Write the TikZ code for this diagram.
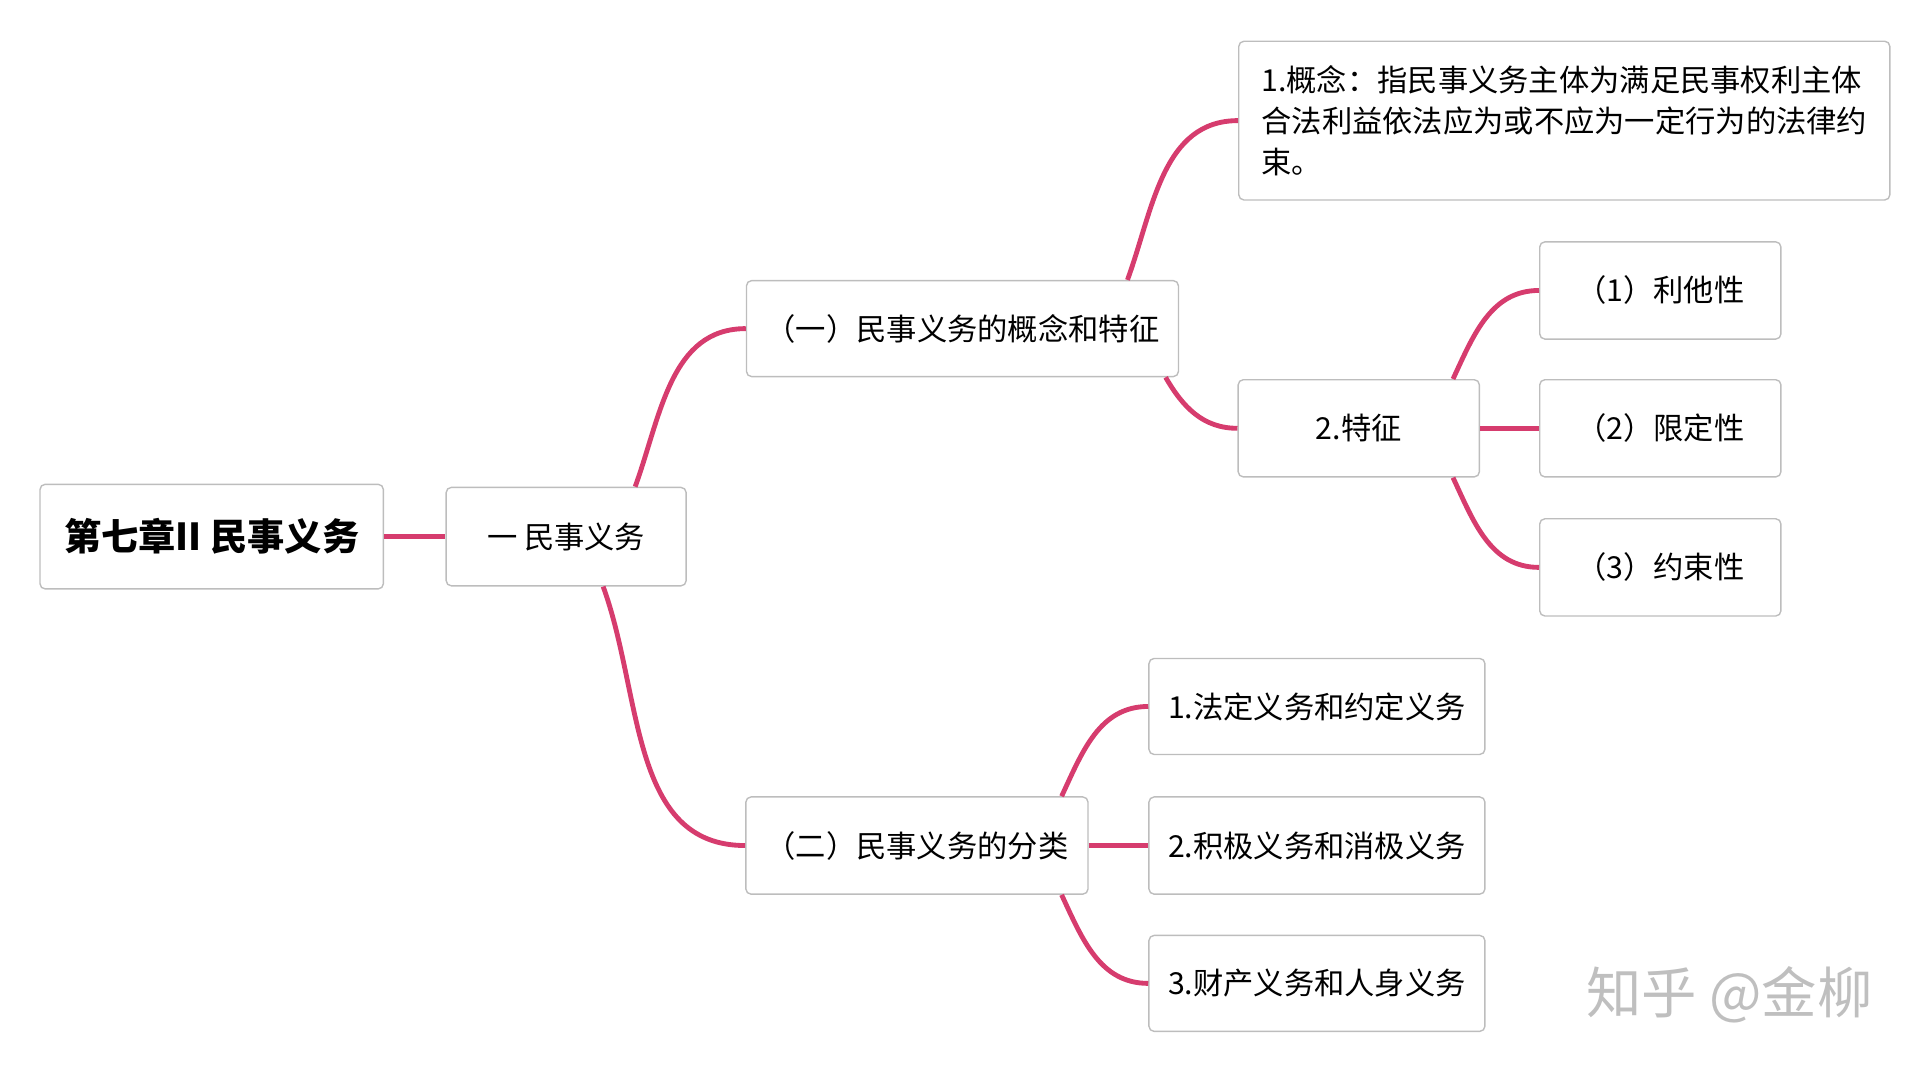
\documentclass[tikz,border=0pt]{standalone}
\usepackage{fontspec}
\setmainfont{Noto Sans CJK SC}
\usetikzlibrary{positioning,calc}
\definecolor{linkpink}{HTML}{D63C6E}
\definecolor{boxgray}{HTML}{BDBDBD}
\tikzset{
  box/.style={draw=boxgray, line width=0.8pt, rounded corners=3pt, fill=white,
    inner sep=0pt, align=center, font=\fontsize{17.5}{27}\selectfont},
  link/.style={draw=linkpink, line width=2.8pt},
}
\begin{document}
\begin{tikzpicture}[x=0.025cm,y=-0.025cm]
  \useasboundingbox (0,0) rectangle (1560,868);

  % Nodes
  \node[box, minimum width=279*0.025cm, minimum height=85*0.025cm,
        font=\fontsize{21.5}{26}\selectfont\bfseries] at (172,436) (root) {第七章II 民事义务};
  \node[box, minimum width=195*0.025cm, minimum height=80*0.025cm] at (460,436) (duty) {一 民事义务};

  \node[box, minimum width=351*0.025cm, minimum height=78*0.025cm] at (782,267) (concept) {（一）民事义务的概念和特征};
  \node[box, minimum width=529*0.025cm, minimum height=129*0.025cm, align=left,
        font=\fontsize{17.5}{23.5}\selectfont] at (1271,98) (define)
        {1.概念：指民事义务主体为满足民事权利主体\\合法利益依法应为或不应为一定行为的法律约\\束。};
  \node[box, minimum width=196*0.025cm, minimum height=79*0.025cm] at (1104,348) (feat) {2.特征};
  \node[box, minimum width=196*0.025cm, minimum height=79*0.025cm] at (1349,236) (featA) {（1）利他性};
  \node[box, minimum width=196*0.025cm, minimum height=79*0.025cm] at (1349,348) (featB) {（2）限定性};
  \node[box, minimum width=196*0.025cm, minimum height=79*0.025cm] at (1349,461) (featC) {（3）约束性};

  \node[box, minimum width=278*0.025cm, minimum height=79*0.025cm] at (745,687) (kind) {（二）民事义务的分类};
  \node[box, minimum width=273*0.025cm, minimum height=78*0.025cm] at (1070,574) (kindA) {1.法定义务和约定义务};
  \node[box, minimum width=273*0.025cm, minimum height=79*0.025cm] at (1070,687) (kindB) {2.积极义务和消极义务};
  \node[box, minimum width=273*0.025cm, minimum height=78*0.025cm] at (1070,799) (kindC) {3.财产义务和人身义务};

  \node[text=black!25, font=\fontsize{32}{36}\selectfont] at (1405,808) (mark) {知乎 @金柳};

  % Links
  \draw[link] (root.east) -- (duty.west);
  \draw[link] ($(duty.north east)+(-42,0)$) to[out=70,in=180] (concept.west);
  \draw[link] ($(duty.south east)+(-68,0)$) to[out=-70,in=180] (kind.west);
  \draw[link] ($(concept.north east)+(-42,0)$) to[out=70,in=180] (define.west);
  \draw[link] ($(concept.south east)+(-11,0)$) to[out=-60,in=180] (feat.west);
  \draw[link] ($(feat.north east)+(-22,0)$) to[out=65,in=180] (featA.west);
  \draw[link] (feat.east) -- (featB.west);
  \draw[link] ($(feat.south east)+(-22,0)$) to[out=-65,in=180] (featC.west);
  \draw[link] ($(kind.north east)+(-22,0)$) to[out=65,in=180] (kindA.west);
  \draw[link] (kind.east) -- (kindB.west);
  \draw[link] ($(kind.south east)+(-22,0)$) to[out=-65,in=180] (kindC.west);
\end{tikzpicture}
\end{document}
